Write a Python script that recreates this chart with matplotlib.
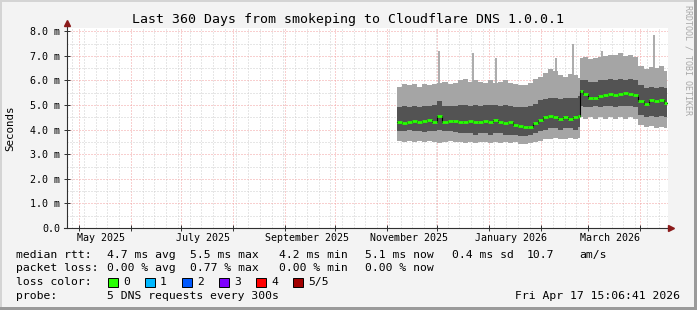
import numpy as np
import matplotlib
matplotlib.use('Agg')
import matplotlib.pyplot as plt
import matplotlib.dates as mdates
import matplotlib.ticker as mticker
from matplotlib.patches import Rectangle
from matplotlib.lines import Line2D

plt.rcParams['font.family'] = ['DejaVu Sans Mono']

# smoke / median values (milliseconds)
dates = ['2025-11-07', '2025-11-10', '2025-11-13', '2025-11-16', '2025-11-19',
         '2025-11-22', '2025-11-25', '2025-11-28', '2025-12-01', '2025-12-04',
         '2025-12-07', '2025-12-10', '2025-12-13', '2025-12-16', '2025-12-19',
         '2025-12-22', '2025-12-25', '2025-12-28', '2025-12-31', '2026-01-03',
         '2026-01-06', '2026-01-09', '2026-01-12', '2026-01-15', '2026-01-18',
         '2026-01-21', '2026-01-24', '2026-01-27', '2026-01-30', '2026-02-02',
         '2026-02-05', '2026-02-08', '2026-02-11', '2026-02-14', '2026-02-17',
         '2026-02-20', '2026-02-23', '2026-02-24', '2026-02-26', '2026-03-01',
         '2026-03-04', '2026-03-07', '2026-03-10', '2026-03-13', '2026-03-16',
         '2026-03-19', '2026-03-22', '2026-03-25', '2026-03-28', '2026-03-31',
         '2026-04-03', '2026-04-06', '2026-04-09', '2026-04-12', '2026-04-15']
data_end = '2026-04-17 06:00'

min_rtt = [3.55, 3.50, 3.55, 3.50, 3.55, 3.50, 3.55, 3.50, 3.45, 3.50,
           3.55, 3.50, 3.50, 3.45, 3.50, 3.45, 3.50, 3.50, 3.45, 3.50,
           3.45, 3.50, 3.45, 3.50, 3.40, 3.40, 3.45, 3.50, 3.55, 3.60,
           3.60, 3.65, 3.60, 3.60, 3.65, 3.60, 3.65, 4.50, 4.45, 4.50,
           4.45, 4.50, 4.45, 4.50, 4.45, 4.50, 4.45, 4.50, 4.45, 4.20,
           4.10, 4.15, 4.05, 4.10, 4.05]
low_rtt = [3.95, 3.95, 4.00, 3.95, 3.95, 3.90, 3.95, 3.95, 4.00, 3.95,
           3.95, 3.90, 3.85, 3.85, 3.85, 3.80, 3.85, 3.85, 3.80, 3.85,
           3.85, 3.80, 3.80, 3.80, 3.75, 3.75, 3.80, 3.85, 3.95, 4.00,
           4.05, 4.05, 4.00, 4.05, 4.05, 4.00, 4.10, 4.95, 4.90, 4.90,
           4.95, 4.90, 4.95, 4.95, 4.90, 4.95, 4.95, 4.95, 4.90, 4.60,
           4.50, 4.55, 4.50, 4.55, 4.50]
median_rtt = [4.30, 4.28, 4.32, 4.35, 4.30, 4.35, 4.38, 4.30, 4.55, 4.30,
              4.35, 4.35, 4.30, 4.30, 4.35, 4.30, 4.30, 4.35, 4.30, 4.40,
              4.30, 4.25, 4.30, 4.20, 4.15, 4.10, 4.10, 4.25, 4.40, 4.50,
              4.55, 4.50, 4.45, 4.50, 4.45, 4.50, 4.55, 5.55, 5.45, 5.30,
              5.30, 5.35, 5.40, 5.45, 5.40, 5.45, 5.50, 5.45, 5.40, 5.15,
              5.05, 5.20, 5.15, 5.20, 5.10]
high_rtt = [4.90, 4.95, 4.90, 4.95, 4.90, 4.95, 4.95, 5.00, 5.15, 4.95,
            4.95, 4.95, 5.00, 5.00, 4.95, 5.00, 4.95, 5.00, 5.00, 5.00,
            4.95, 5.00, 4.95, 4.90, 4.90, 4.90, 4.95, 5.05, 5.20, 5.25,
            5.30, 5.30, 5.25, 5.30, 5.30, 5.30, 5.35, 6.00, 6.00, 5.95,
            5.95, 6.00, 6.00, 6.05, 6.00, 6.05, 6.00, 6.05, 6.00, 5.80,
            5.70, 5.75, 5.70, 5.75, 5.70]
max_rtt = [5.75, 5.85, 5.80, 5.85, 5.75, 5.85, 5.80, 5.85, 5.90, 5.95,
           5.85, 5.90, 6.00, 6.05, 5.95, 6.00, 5.95, 5.90, 6.00, 5.90,
           5.95, 6.00, 5.90, 5.85, 5.80, 5.80, 5.90, 6.05, 6.15, 6.30,
           6.45, 6.40, 6.20, 6.15, 6.25, 6.20, 6.10, 6.90, 6.95, 6.85,
           6.90, 6.95, 7.00, 7.05, 7.05, 7.10, 7.00, 7.05, 6.95, 6.60,
           6.45, 6.55, 6.50, 6.60, 6.40]

spike_dates = ['2025-12-02', '2025-12-22', '2026-01-05', '2026-02-10',
               '2026-02-20', '2026-03-09', '2026-04-09']
spike_tops = [7.2, 7.1, 6.9, 6.9, 7.5, 7.2, 7.85]

title = 'Last 360 Days from smokeping to Cloudflare DNS 1.0.0.1'
y_ticks = [0, 1, 2, 3, 4, 5, 6, 7, 8]
y_labels = ['0.0', '1.0 m', '2.0 m', '3.0 m', '4.0 m', '5.0 m', '6.0 m',
            '7.0 m', '8.0 m']
month_labels = ['May 2025', 'July 2025', 'September 2025', 'November 2025',
                'January 2026', 'March 2026']
month_label_dates = ['2025-05-14', '2025-07-14', '2025-09-14', '2025-11-14',
                     '2026-01-14', '2026-03-14']

rtt_rows = ['4.7 ms avg', '5.5 ms max', '4.2 ms min', '5.1 ms now',
            '0.4 ms sd', '10.7', 'am/s']
loss_rows = ['0.00 % avg', '0.77 % max', '0.00 % min', '0.00 % now']
loss_names = ['0', '1', '2', '3', '4', '5/5']
loss_colors = ['#26ff00', '#00b8ff', '#0059ff', '#7e00ff', '#ff0000', '#a10000']

W, H = 697, 310
BG = '#f3f3f3'
LIGHT = '#a5a5a5'
DARK = '#535353'


def fx(x):
    return x / W


def fy(y):
    return 1 - y / H


fig = plt.figure(figsize=(W / 100, H / 100), dpi=100, facecolor=BG)
ax = fig.add_axes([fx(67), fy(228), (668 - 67) / W, 200 / H])
ax.set_facecolor('white')

t = mdates.datestr2num(dates)
t_edges = np.append(t, mdates.datestr2num(data_end))


def ext(v):
    return np.append(v, v[-1])


# smoke
ax.vlines(mdates.datestr2num(spike_dates), 4.5, spike_tops, color=LIGHT,
          lw=1.3, zorder=2)
ax.fill_between(t_edges, ext(min_rtt), ext(max_rtt), step='post',
                color=LIGHT, lw=0, zorder=2)
ax.fill_between(t_edges, ext(low_rtt), ext(high_rtt), step='post',
                color=DARK, lw=0, zorder=3)
# median, coloured by loss
ax.step(t_edges, ext(median_rtt), where='post', color='black', lw=0.8,
        zorder=4)
ax.hlines(median_rtt, t_edges[:-1], t_edges[1:], color=loss_colors[0],
          lw=2.0, zorder=5)

ax.set_xlim(mdates.datestr2num('2025-04-23 20:00'),
            mdates.datestr2num('2026-04-17 15:00'))
ax.set_ylim(0, 200 / 24.6)

ax.xaxis.set_major_locator(mdates.MonthLocator())
ax.xaxis.set_minor_locator(mdates.WeekdayLocator(byweekday=mdates.SU))
ax.xaxis.set_major_formatter(mticker.NullFormatter())
ax.set_yticks(y_ticks)
ax.set_yticklabels(y_labels)
ax.yaxis.set_minor_locator(mticker.MultipleLocator(0.5))

ax.set_axisbelow(True)
ax.grid(which='minor', color='#cfcfcf', ls=(0, (1, 2)), lw=0.72)
ax.grid(which='major', color='#f2a0a0', ls=(0, (1, 2)), lw=0.72)
ax.tick_params(axis='y', which='major', direction='inout', length=4,
               width=0.7, color='#303030', labelsize=7.2, pad=3)
ax.tick_params(axis='x', which='major', direction='inout', length=4,
               width=0.7, color='#303030')
ax.tick_params(which='minor', length=0)
for s in ax.spines.values():
    s.set_visible(False)

for lab, d in zip(month_labels, month_label_dates):
    ax.text(mdates.datestr2num(d), -0.05, lab, transform=ax.get_xaxis_transform(),
            ha='center', va='center', fontsize=7.2)

# axes with arrows
fig.add_artist(Line2D([fx(67), fx(67)], [fy(228), fy(24)], color='#303030',
                      lw=0.8))
fig.add_artist(Line2D([fx(64), fx(670)], [fy(228), fy(228)], color='#303030',
                      lw=0.8))
fig.add_artist(Line2D([fx(67)], [fy(23)], marker='^', ms=5, color='#8b1a1a',
                      lw=0))
fig.add_artist(Line2D([fx(671)], [fy(228)], marker='>', ms=5, color='#8b1a1a',
                      lw=0))

fig.text(fx(348), fy(19), title, ha='center', va='center', fontsize=9.5)
fig.text(fx(10), fy(128), 'Seconds', rotation=90, ha='center', va='center',
         fontsize=7.8)
fig.text(fx(688), fy(60), 'RRDTOOL / TOBI OETIKER', rotation=270,
         ha='center', va='center', fontsize=6.0, color='#a8a8a8')

# legend block
fs = 8.2
fig.text(fx(16), fy(255), 'median rtt:', va='center', fontsize=fs)
for s, x in zip(rtt_rows, [107, 190, 279, 365, 452, 527, 579]):
    fig.text(fx(x), fy(255), s, va='center', fontsize=fs)
fig.text(fx(16), fy(268), 'packet loss:', va='center', fontsize=fs)
for s, x in zip(loss_rows, [107, 190, 279, 365]):
    fig.text(fx(x), fy(268), s, va='center', fontsize=fs)
fig.text(fx(16), fy(282), 'loss color:', va='center', fontsize=fs)
for i, (n, c) in enumerate(zip(loss_names, loss_colors)):
    x0 = 108 + i * 37
    fig.add_artist(Rectangle((fx(x0), fy(287)), 10 / W, 9 / H, facecolor=c,
                             edgecolor='black', lw=0.7,
                             transform=fig.transFigure))
    fig.text(fx(x0 + 15), fy(282), n, va='center', fontsize=fs)
fig.text(fx(16), fy(296), 'probe:', va='center', fontsize=fs)
fig.text(fx(107), fy(296), '5 DNS requests every 300s', va='center',
         fontsize=fs)
fig.text(fx(680), fy(296), 'Fri Apr 17 15:06:41 2026', va='center',
         ha='right', fontsize=fs)

# frame shading
for (x0, y0, w, h, c) in [(0, 0, W, 2, '#d4d4d4'), (0, 0, 2, H, '#d4d4d4'),
                          (0, H - 3, W, 3, '#9a9a9a'),
                          (W - 3, 0, 3, H, '#9a9a9a')]:
    fig.add_artist(Rectangle((fx(x0), fy(y0 + h)), w / W, h / H, facecolor=c,
                             lw=0, transform=fig.transFigure))

fig.savefig('out.png', dpi=100, facecolor=BG)
